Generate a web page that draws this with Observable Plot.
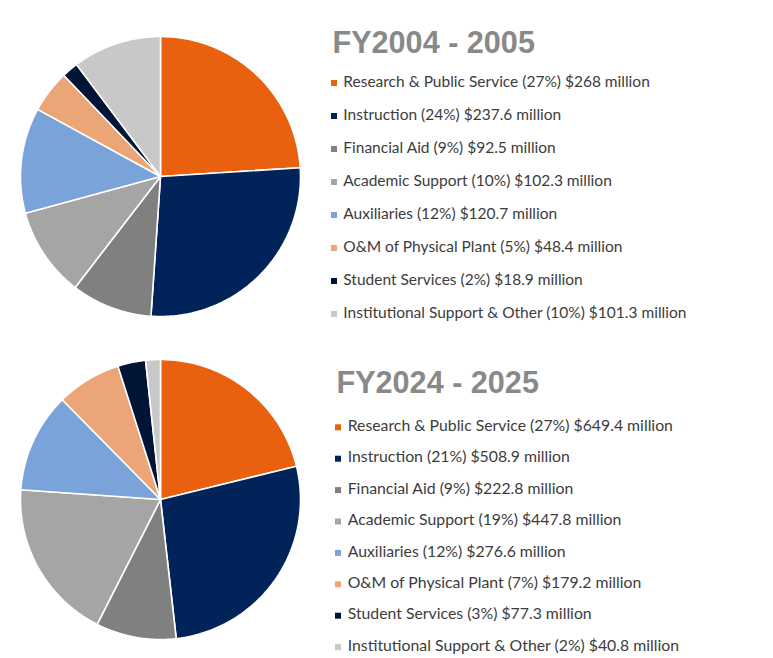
<!DOCTYPE html>
<html><head><meta charset="utf-8">
<script src="https://cdn.jsdelivr.net/npm/d3@7"></script>
<script src="https://cdn.jsdelivr.net/npm/@observablehq/plot@0.6"></script>
<style>
html,body{margin:0;padding:0;background:#fff;}
#root{position:relative;width:773px;height:658px;overflow:hidden;}
.pie{position:absolute;}
.pie svg{overflow:visible;}
#overlay{position:absolute;left:0;top:0;}
</style></head><body><div id="root"></div>
<script>
const categories = ["Research & Public Service","Instruction","Financial Aid","Academic Support","Auxiliaries","O&M of Physical Plant","Student Services","Institutional Support & Other"];
const colors = ["#E9600E","#00235A","#808080","#A5A5A5","#7AA3D9","#EBA577","#001535","#C8C8C8"];
const titles = ["FY2004 - 2005","FY2024 - 2025"];
const values2005 = [268,237.6,92.5,102.3,120.7,48.4,18.9,101.3];
const percents2005 = [27,24,9,10,12,5,2,10];
const values2025 = [649.4,508.9,222.8,447.8,276.6,179.2,77.3,40.8];
const percents2025 = [27,21,9,19,12,7,3,2];
// order in which the source pies draw the category values (first two shares appear swapped there)
const sliceValueOrder = [1,0,2,3,4,5,6,7];

function slicePoints(values){
  const vals = sliceValueOrder.map(i => values[i]);
  const arcs = d3.pie().sort(null).value(d => d)(vals);
  const pts = [];
  arcs.forEach((a, i) => {
    pts.push({slice: i, color: colors[i], x: 0, y: 0});
    const n = Math.max(2, Math.ceil((a.endAngle - a.startAngle) / (Math.PI / 180)));
    for (let k = 0; k <= n; k++) {
      const t = a.startAngle + (a.endAngle - a.startAngle) * k / n;
      pts.push({slice: i, color: colors[i], x: Math.sin(t), y: Math.cos(t)});
    }
  });
  return pts;
}

function pie(values){
  return Plot.plot({
    width: 280, height: 280, margin: 0,
    style: {overflow: "visible", background: "transparent"},
    x: {domain: [-1, 1], axis: null},
    y: {domain: [-1, 1], axis: null},
    color: {type: "identity"},
    marks: [
      Plot.line(slicePoints(values), {x: "x", y: "y", z: "slice", fill: "color", stroke: "white", strokeWidth: 1.6, strokeLinejoin: "miter", curve: "linear-closed"})
    ]
  });
}

const root = document.getElementById("root");
const sections = [
  {values: values2005, percents: percents2005, title: titles[0], pieLeft: 19.5, pieTop: 35.5,
   titleX: 332.5, titleY: 53.3, sqX: 331, textX: 343.3, base0: 86.7, step: 33, fs: 15.5},
  {values: values2025, percents: percents2025, title: titles[1], pieLeft: 20.3, pieTop: 358.8,
   titleX: 336.5, titleY: 393, sqX: 335, textX: 347.7, base0: 431, step: 31.4, fs: 15.8}
];

sections.forEach(s => {
  const d = document.createElement("div");
  d.className = "pie";
  d.style.left = s.pieLeft + "px";
  d.style.top = s.pieTop + "px";
  d.appendChild(pie(s.values));
  root.appendChild(d);
});

const svg = d3.select(root).append("svg").attr("id", "overlay").attr("width", 773).attr("height", 658);
sections.forEach(s => {
  svg.append("text").attr("x", s.titleX).attr("y", s.titleY)
    .attr("font-family", "'Liberation Sans', Arial, sans-serif").attr("font-weight", "bold")
    .attr("font-size", 30.6).attr("fill", "#898989").text(s.title);
  categories.forEach((c, i) => {
    const by = s.base0 + s.step * i;
    svg.append("rect").attr("x", s.sqX).attr("y", by - 6.7).attr("width", 6).attr("height", 6).attr("fill", colors[i]);
    svg.append("text").attr("x", s.textX).attr("y", by)
      .attr("font-family", "Lato, 'Open Sans', sans-serif").attr("font-size", s.fs).attr("fill", "#3C3C3C")
      .text(`${c} (${s.percents[i]}%) $${s.values[i]} million`);
  });
});
</script>
</body></html>
